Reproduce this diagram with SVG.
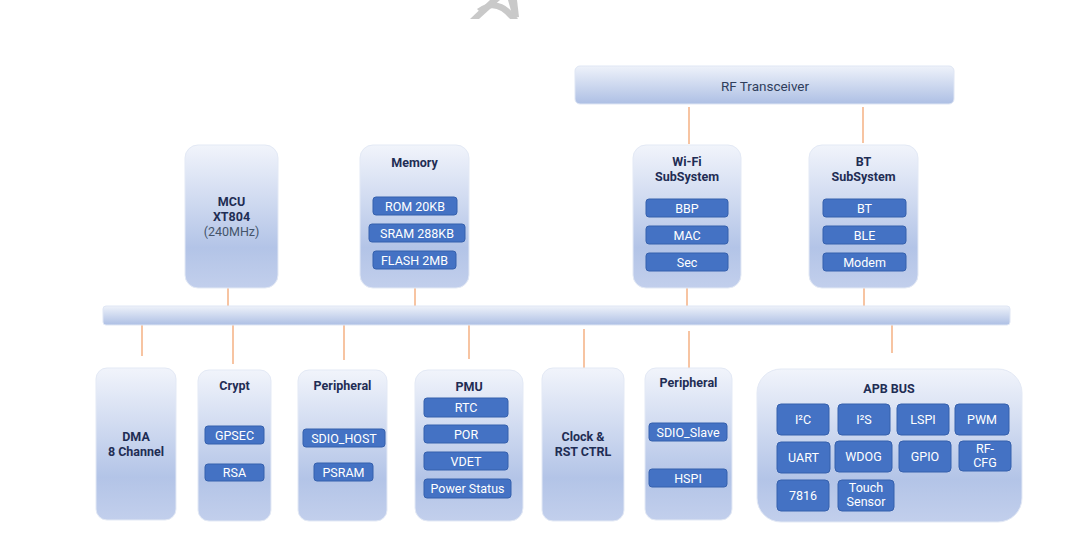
<svg xmlns="http://www.w3.org/2000/svg" width="1082" height="546" viewBox="0 0 1082 546">
<defs>
<linearGradient id="gBox" x1="0" y1="0" x2="0" y2="1">
<stop offset="0" stop-color="#f1f4fb"/>
<stop offset="0.72" stop-color="#b3c4e7"/>
<stop offset="1" stop-color="#c2cfec"/>
</linearGradient>
<linearGradient id="gBar" x1="0" y1="0" x2="0" y2="1">
<stop offset="0" stop-color="#eef2fa"/>
<stop offset="1" stop-color="#adbfe4"/>
</linearGradient>
<style>
.box{fill:url(#gBox);stroke:#e3e9f5;stroke-width:1}
.bar{fill:url(#gBar);stroke:#dfe6f4;stroke-width:1}
.sub{fill:#4472c4;stroke:#3560ad;stroke-width:1}
.t{font-family:Roboto,"Liberation Sans",sans-serif;font-size:12.5px;font-weight:bold;fill:#1f2d54;text-anchor:middle}
.n{font-family:Roboto,"Liberation Sans",sans-serif;font-size:12.5px;fill:#44546a;text-anchor:middle}
.s{font-family:Roboto,"Liberation Sans",sans-serif;font-size:12.5px;fill:#ffffff;text-anchor:middle}
.c{stroke:#f4b183;stroke-width:1.5;fill:none}
</style>
</defs>
<rect width="1082" height="546" fill="#ffffff"/>
<g id="watermark" fill="#c9c9c9">
<polygon points="470,19 479,19 500,0 490,0"/>
<path d="M481,13 Q495,1 510,19 L518,19 Q500,-8 477,9 Z"/>
<polygon points="508,0 517,0 519,17 513,18"/>
</g>
<g id="connectors">
<line class="c" x1="689" y1="107" x2="689" y2="144"/>
<line class="c" x1="863" y1="107" x2="863" y2="143"/>
<line class="c" x1="228" y1="288" x2="228" y2="306"/>
<line class="c" x1="415" y1="288" x2="415" y2="306"/>
<line class="c" x1="687" y1="288" x2="687" y2="306"/>
<line class="c" x1="864" y1="288" x2="864" y2="306"/>
<line class="c" x1="142" y1="325" x2="142" y2="356"/>
<line class="c" x1="233" y1="325" x2="233" y2="364"/>
<line class="c" x1="344" y1="325" x2="344" y2="360"/>
<line class="c" x1="469" y1="325" x2="469" y2="359"/>
<line class="c" x1="584" y1="329" x2="584" y2="368"/>
<line class="c" x1="689" y1="331" x2="689" y2="368"/>
<line class="c" x1="892" y1="325" x2="892" y2="353"/>
</g>
<g id="rf">
<rect class="bar" x="575" y="66" width="379" height="38" rx="5"/>
<text class="n" x="765" y="91" style="font-size:13.5px;fill:#2f3e5c">RF Transceiver</text>
</g>
<g id="bus">
<rect class="bar" x="103" y="306" width="907" height="19" rx="3"/>
</g>
<g id="mcu">
<rect class="box" x="185" y="145" width="93" height="143" rx="13"/>
<text class="t" x="231.5" y="206">MCU</text>
<text class="t" x="231.5" y="221">XT804</text>
<text class="n" x="231.5" y="236">(240MHz)</text>
</g>
<g id="memory">
<rect class="box" x="360" y="145" width="109" height="143" rx="13"/>
<text class="t" x="414.5" y="167">Memory</text>
<rect class="sub" x="373" y="197" width="84" height="18" rx="3"/>
<text class="s" x="415" y="210.5">ROM 20KB</text>
<rect class="sub" x="369" y="224" width="96" height="18" rx="3"/>
<text class="s" x="417" y="237.5">SRAM 288KB</text>
<rect class="sub" x="373" y="251" width="83" height="18" rx="3"/>
<text class="s" x="414.5" y="264.5">FLASH 2MB</text>
</g>
<g id="wifi">
<rect class="box" x="633" y="145" width="108" height="143" rx="13"/>
<text class="t" x="687" y="166">Wi-Fi</text>
<text class="t" x="687" y="181">SubSystem</text>
<rect class="sub" x="646" y="199" width="82" height="18" rx="3"/>
<text class="s" x="687" y="212.5">BBP</text>
<rect class="sub" x="646" y="226" width="82" height="18" rx="3"/>
<text class="s" x="687" y="239.5">MAC</text>
<rect class="sub" x="646" y="253" width="82" height="18" rx="3"/>
<text class="s" x="687" y="266.5">Sec</text>
</g>
<g id="bt">
<rect class="box" x="809" y="145" width="109" height="143" rx="13"/>
<text class="t" x="863.5" y="166">BT</text>
<text class="t" x="863.5" y="181">SubSystem</text>
<rect class="sub" x="823" y="199" width="83" height="18" rx="3"/>
<text class="s" x="864.5" y="212.5">BT</text>
<rect class="sub" x="823" y="226" width="83" height="18" rx="3"/>
<text class="s" x="864.5" y="239.5">BLE</text>
<rect class="sub" x="823" y="253" width="83" height="18" rx="3"/>
<text class="s" x="864.5" y="266.5">Modem</text>
</g>
<g id="dma">
<rect class="box" x="96" y="368" width="80" height="152" rx="11"/>
<text class="t" x="136" y="441">DMA</text>
<text class="t" x="136" y="456">8 Channel</text>
</g>
<g id="crypt">
<rect class="box" x="198" y="370" width="73" height="151" rx="11"/>
<text class="t" x="234.5" y="390">Crypt</text>
<rect class="sub" x="205" y="426" width="59" height="18" rx="3"/>
<text class="s" x="234.5" y="439.5">GPSEC</text>
<rect class="sub" x="205" y="464" width="59" height="17" rx="3"/>
<text class="s" x="234.5" y="477">RSA</text>
</g>
<g id="peripheral1">
<rect class="box" x="298" y="370" width="89" height="151" rx="11"/>
<text class="t" x="342.5" y="390">Peripheral</text>
<rect class="sub" x="303" y="429" width="82" height="18" rx="3"/>
<text class="s" x="344" y="442.5">SDIO_HOST</text>
<rect class="sub" x="314" y="463" width="59" height="18" rx="3"/>
<text class="s" x="343.5" y="476.5">PSRAM</text>
</g>
<g id="pmu">
<rect class="box" x="415" y="370" width="108" height="151" rx="13"/>
<text class="t" x="469" y="391">PMU</text>
<rect class="sub" x="424" y="398" width="84" height="19" rx="3"/>
<text class="s" x="466" y="412">RTC</text>
<rect class="sub" x="424" y="425" width="84" height="18" rx="3"/>
<text class="s" x="466" y="438.5">POR</text>
<rect class="sub" x="424" y="452" width="84" height="18" rx="3"/>
<text class="s" x="466" y="465.5">VDET</text>
<rect class="sub" x="424" y="479" width="87" height="19" rx="3"/>
<text class="s" x="467.5" y="493">Power Status</text>
</g>
<g id="clock">
<rect class="box" x="542" y="368" width="82" height="153" rx="11"/>
<text class="t" x="583" y="441">Clock &amp;</text>
<text class="t" x="583" y="456">RST CTRL</text>
</g>
<g id="peripheral2">
<rect class="box" x="645" y="368" width="87" height="152" rx="11"/>
<text class="t" x="688.5" y="387">Peripheral</text>
<rect class="sub" x="649" y="423" width="78" height="18" rx="3"/>
<text class="s" x="688" y="436.5">SDIO_Slave</text>
<rect class="sub" x="649" y="469" width="78" height="18" rx="3"/>
<text class="s" x="688" y="482.5">HSPI</text>
</g>
<g id="apb">
<rect class="box" x="757" y="369" width="265" height="153" rx="24"/>
<text class="t" x="889" y="393">APB BUS</text>
<rect class="sub" x="777" y="404" width="52" height="31" rx="4"/>
<text class="s" x="803" y="424">I²C</text>
<rect class="sub" x="838" y="404" width="52" height="31" rx="4"/>
<text class="s" x="864" y="424">I²S</text>
<rect class="sub" x="897" y="404" width="52" height="31" rx="4"/>
<text class="s" x="923" y="424">LSPI</text>
<rect class="sub" x="955" y="404" width="54" height="31" rx="4"/>
<text class="s" x="982" y="424">PWM</text>
<rect class="sub" x="777" y="442" width="53" height="31" rx="4"/>
<text class="s" x="803.5" y="462">UART</text>
<rect class="sub" x="835" y="441" width="57" height="31" rx="4"/>
<text class="s" x="863.5" y="461">WDOG</text>
<rect class="sub" x="899" y="441" width="52" height="31" rx="4"/>
<text class="s" x="925" y="461">GPIO</text>
<rect class="sub" x="959" y="441" width="52" height="30" rx="4"/>
<text class="s" x="985" y="453">RF-</text>
<text class="s" x="985" y="467">CFG</text>
<rect class="sub" x="777" y="480" width="52" height="31" rx="4"/>
<text class="s" x="803" y="500">7816</text>
<rect class="sub" x="838" y="480" width="56" height="31" rx="4"/>
<text class="s" x="866" y="492">Touch</text>
<text class="s" x="866" y="506">Sensor</text>
</g>
</svg>
